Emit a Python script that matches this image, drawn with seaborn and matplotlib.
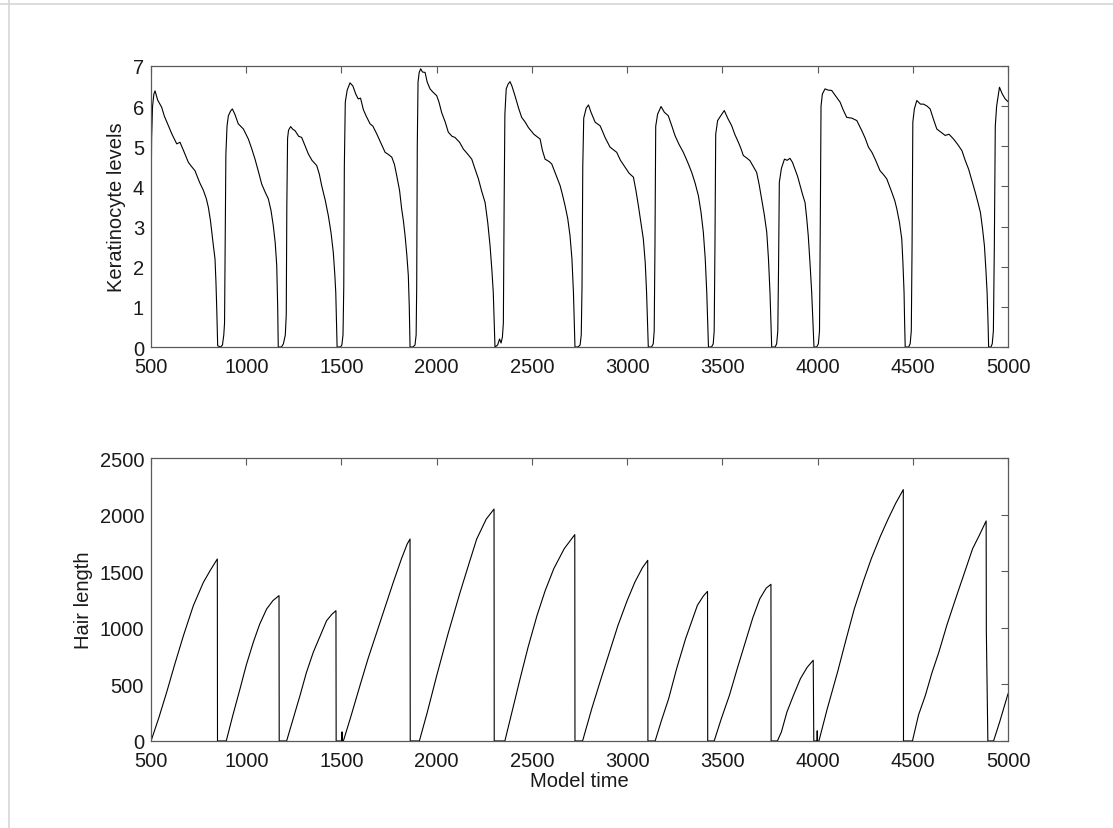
import numpy as np
import pandas as pd
import matplotlib
matplotlib.use("Agg")
import matplotlib.pyplot as plt
from matplotlib.lines import Line2D
import seaborn as sns

# Keratinocyte levels over model time
kera_t = [500, 503, 508, 515, 521, 535, 556, 570, 591, 610, 635, 652, 670, 696, 712, 731, 755, 775, 790, 801, 812, 819, 828, 836, 841, 845, 850,
          865, 875, 882, 886, 889, 893, 899, 906, 918, 927,
          940, 958, 985, 1011, 1028, 1046, 1065, 1081, 1100, 1116, 1130, 1142, 1152, 1160, 1165, 1168,
          1185, 1195, 1205, 1210, 1213, 1217, 1222, 1233,
          1245, 1256, 1275, 1291, 1310, 1326, 1345, 1370, 1384, 1396, 1415, 1431, 1445, 1457, 1465, 1470, 1477,
          1495, 1502, 1508, 1512, 1515, 1520, 1530, 1545, 1560,
          1575, 1588, 1600, 1615, 1630, 1650, 1665, 1685, 1705, 1729, 1745, 1764, 1778, 1790, 1805, 1816, 1825, 1834, 1843, 1851, 1856, 1860,
          1875, 1886, 1892, 1895, 1898, 1902, 1908, 1916, 1925, 1939,
          1950, 1965, 1980, 2000, 2012, 2026, 2045, 2061, 2080, 2096, 2120, 2140, 2160, 2184, 2200, 2219, 2235, 2254, 2268, 2280, 2290, 2297, 2302, 2306,
          2320, 2330, 2338, 2345, 2350, 2354, 2358, 2365, 2375, 2385, 2395,
          2411, 2430, 2446, 2465, 2481, 2510, 2543, 2555, 2569, 2590, 2604, 2625, 2648, 2660, 2674, 2688, 2700, 2710, 2718, 2722, 2726,
          2742, 2753, 2759, 2763, 2767, 2772, 2785, 2797,
          2810, 2832, 2858, 2870, 2884, 2897, 2910, 2945, 2965, 2989, 3010, 3033, 3046, 3059, 3072, 3085, 3095, 3102, 3107, 3111,
          3128, 3137, 3142, 3146, 3150, 3160, 3178,
          3195, 3216, 3235, 3251, 3272, 3295, 3318, 3339, 3357, 3374, 3388, 3400, 3410, 3418, 3423, 3427,
          3443, 3452, 3457, 3461, 3465, 3475, 3490, 3510,
          3528, 3549, 3565, 3584, 3597, 3610, 3630, 3645, 3662, 3680, 3693, 3706, 3720, 3733, 3742, 3750, 3755, 3759,
          3777, 3785, 3791, 3795, 3799, 3810, 3826, 3840, 3855,
          3868, 3881, 3895, 3908, 3921, 3934, 3943, 3951, 3960, 3969, 3976, 3981,
          3995, 4004, 4010, 4014, 4018, 4025, 4039, 4055, 4074,
          4095, 4118, 4135, 4153, 4180, 4206, 4232, 4250, 4267, 4285, 4302, 4328, 4345, 4363, 4390, 4405, 4416, 4430, 4442, 4448, 4454, 4457, 4460,
          4478, 4486, 4492, 4496, 4500, 4508, 4521, 4540, 4556, 4575, 4591,
          4610, 4626, 4648, 4670, 4690, 4714, 4735, 4758, 4775, 4793, 4810, 4828, 4842, 4855, 4866, 4876, 4884, 4890, 4895, 4898,
          4910, 4917, 4923, 4928, 4933, 4940, 4955, 4970, 4985, 5000]
kera_v = [3.3, 5.2, 6.0, 6.3, 6.38, 6.15, 5.97, 5.75, 5.51, 5.3, 5.06, 5.10, 4.9, 4.60, 4.5, 4.39, 4.1, 3.90, 3.7, 3.48, 3.15, 2.86, 2.5, 2.19, 1.6, 0.95, 0.03,
          0.0, 0.05, 0.3, 0.6, 2.5, 4.8, 5.5, 5.76, 5.88, 5.93,
          5.8, 5.56, 5.43, 5.18, 4.95, 4.68, 4.35, 4.06, 3.85, 3.69, 3.4, 3.02, 2.6, 2.03, 1.0, 0.0,
          0.0, 0.08, 0.3, 0.8, 3.5, 5.2, 5.4, 5.49,
          5.42, 5.39, 5.25, 5.22, 5.0, 4.81, 4.65, 4.52, 4.3, 4.02, 3.65, 3.27, 2.85, 2.36, 1.8, 1.36, 0.0,
          0.0, 0.05, 0.3, 1.5, 4.5, 6.1, 6.4, 6.58, 6.5,
          6.3, 6.18, 6.2, 5.91, 5.75, 5.56, 5.5, 5.31, 5.1, 4.85, 4.8, 4.73, 4.55, 4.27, 3.9, 3.44, 3.15, 2.77, 2.3, 1.78, 1.0, 0.0,
          0.0, 0.05, 0.3, 1.5, 5.0, 6.6, 6.84, 6.93, 6.85, 6.84,
          6.6, 6.43, 6.35, 6.26, 6.1, 5.84, 5.6, 5.35, 5.25, 5.22, 5.1, 4.93, 4.82, 4.68, 4.45, 4.19, 3.9, 3.60, 3.1, 2.53, 1.9, 1.36, 0.6, 0.0,
          0.05, 0.2, 0.1, 0.25, 0.6, 3.5, 5.8, 6.43, 6.55, 6.61, 6.5,
          6.26, 5.95, 5.72, 5.6, 5.47, 5.3, 5.18, 4.9, 4.68, 4.62, 4.56, 4.3, 4.02, 3.8, 3.52, 3.2, 2.77, 2.2, 1.36, 0.7, 0.0,
          0.0, 0.05, 0.3, 1.5, 4.5, 5.7, 5.95, 6.03,
          5.85, 5.60, 5.51, 5.38, 5.22, 5.1, 4.98, 4.85, 4.65, 4.48, 4.33, 4.23, 3.9, 3.52, 3.1, 2.69, 2.1, 1.36, 0.6, 0.0,
          0.0, 0.08, 0.4, 2.5, 5.5, 5.8, 5.99,
          5.85, 5.76, 5.5, 5.27, 5.05, 4.85, 4.6, 4.35, 4.08, 3.77, 3.35, 2.86, 2.2, 1.36, 0.6, 0.0,
          0.0, 0.08, 0.4, 2.5, 5.3, 5.64, 5.75, 5.89,
          5.7, 5.51, 5.3, 5.10, 4.95, 4.77, 4.7, 4.64, 4.5, 4.35, 4.05, 3.69, 3.3, 2.86, 2.2, 1.36, 0.6, 0.0,
          0.0, 0.08, 0.4, 2.0, 4.1, 4.45, 4.68, 4.65, 4.7,
          4.6, 4.43, 4.25, 4.02, 3.8, 3.60, 3.2, 2.77, 2.1, 1.36, 0.6, 0.0,
          0.0, 0.08, 0.4, 3.0, 6.0, 6.3, 6.43, 6.4, 6.39,
          6.25, 6.10, 5.9, 5.72, 5.7, 5.64, 5.39, 5.2, 4.98, 4.85, 4.68, 4.39, 4.3, 4.19, 3.85, 3.65, 3.44, 3.1, 2.69, 2.1, 1.36, 0.6, 0.0,
          0.0, 0.08, 0.4, 2.5, 5.6, 5.93, 6.14, 6.05, 6.05, 6.0, 5.93,
          5.65, 5.43, 5.35, 5.27, 5.3, 5.18, 5.05, 4.89, 4.65, 4.43, 4.15, 3.85, 3.6, 3.35, 2.95, 2.52, 1.9, 1.36, 0.6, 0.0,
          0.0, 0.08, 0.4, 2.5, 5.5, 6.0, 6.47, 6.3, 6.18, 6.11]

# Hair length over model time
hair_t = [500, 540, 582, 625, 670, 722, 775, 812, 848, 849,
          880, 895, 930, 967, 1000, 1037, 1070, 1107, 1140, 1172, 1173,
          1195, 1212, 1245, 1282, 1315, 1352, 1390, 1422, 1450, 1471, 1472,
          1502, 1503, 1504, 1510, 1550, 1597, 1640, 1685, 1730, 1772, 1815, 1845, 1860, 1861,
          1895, 1909, 1950, 2000, 2060, 2123, 2170, 2210, 2260, 2301, 2302,
          2340, 2358, 2400, 2438, 2480, 2527, 2570, 2615, 2670, 2725, 2726,
          2748, 2766, 2815, 2863, 2910, 2952, 3000, 3041, 3080, 3108, 3109,
          3129, 3147, 3180, 3218, 3260, 3307, 3340, 3369, 3400, 3422, 3423,
          3440, 3457, 3495, 3537, 3580, 3626, 3660, 3697, 3730, 3755, 3756,
          3777, 3789, 3810, 3839, 3875, 3910, 3945, 3977, 3980,
          3997, 3998, 3999, 4007, 4050, 4105, 4150, 4193, 4240, 4282, 4330, 4371, 4410, 4450, 4451,
          4480, 4498, 4530, 4566, 4600, 4637, 4680, 4725, 4770, 4814, 4850, 4885, 4886, 4894,
          4911, 4924, 4956, 5000]
hair_v = [0, 200, 430, 680, 930, 1195, 1402, 1510, 1608, 0,
          0, 0, 230, 459, 670, 872, 1030, 1166, 1240, 1284, 0,
          0, 0, 190, 400, 600, 784, 935, 1063, 1120, 1151, 0,
          0, 80, 0, 0, 220, 489, 730, 960, 1190, 1402, 1610, 1740, 1784, 0,
          0, 0, 250, 577, 950, 1314, 1570, 1784, 1960, 2049, 0,
          0, 0, 290, 551, 830, 1110, 1330, 1523, 1700, 1823, 0,
          0, 0, 290, 551, 800, 1022, 1240, 1405, 1530, 1596, 0,
          0, 0, 180, 374, 640, 904, 1060, 1199, 1280, 1322, 0,
          0, 0, 200, 403, 650, 904, 1090, 1258, 1350, 1384, 0,
          0, 0, 80, 256, 410, 551, 650, 713, 0,
          0, 90, 0, 0, 280, 610, 900, 1169, 1410, 1611, 1810, 1964, 2100, 2221, 0,
          0, 0, 230, 403, 600, 786, 1030, 1258, 1480, 1699, 1820, 1944, 980, 0,
          0, 0, 168, 418]

x_ticks = [500, 1000, 1500, 2000, 2500, 3000, 3500, 4000, 4500, 5000]
kera_ticks = [0, 1, 2, 3, 4, 5, 6, 7]
hair_ticks = [0, 500, 1000, 1500, 2000, 2500]

kera = pd.DataFrame({"time": kera_t, "level": kera_v})
hair = pd.DataFrame({"time": hair_t, "length": hair_v})

sns.set_theme(style="white")
plt.rcParams["font.family"] = ["Liberation Sans", "DejaVu Sans"]
plt.rcParams["axes.edgecolor"] = "#5a5a5a"
plt.rcParams["axes.linewidth"] = 0.9
plt.rcParams["text.color"] = "#1a1a1a"
plt.rcParams["axes.labelcolor"] = "#1a1a1a"

FS = 14.5

fig = plt.figure(figsize=(11.13, 8.29), dpi=100)
fig.patch.set_facecolor("white")

ax1 = fig.add_axes([0.1357, 0.5802, 0.770, 0.339])
ax2 = fig.add_axes([0.1357, 0.105, 0.770, 0.3413])

sns.lineplot(data=kera, x="time", y="level", ax=ax1, color="black",
             linewidth=0.8, estimator=None, sort=False)
sns.lineplot(data=hair, x="time", y="length", ax=ax2, color="black",
             linewidth=0.8, estimator=None, sort=False)

ax1.set_ylim(0, 7)
ax1.set_yticks(kera_ticks)
ax2.set_ylim(0, 2500)
ax2.set_yticks(hair_ticks)

for ax in (ax1, ax2):
    ax.set_xlim(500, 5000)
    ax.set_xticks(x_ticks)
    ax.tick_params(direction="in", length=5, width=0.8, color="#5a5a5a",
                   top=True, right=True, labelsize=FS, labelcolor="#1a1a1a")
    ax.tick_params(axis="x", pad=7)
    ax.tick_params(axis="y", pad=5)
    for s in ax.spines.values():
        s.set_visible(True)
        s.set_color("#5a5a5a")

ax1.set_xlabel("")
ax1.set_ylabel("Keratinocyte levels", fontsize=FS, labelpad=5)
ax2.set_xlabel("Model time", fontsize=FS, labelpad=1)
ax2.set_ylabel("Hair length", fontsize=FS, labelpad=5)

# thin light frame lines along the top and left edges of the canvas
fig.add_artist(Line2D([0, 1], [1 - 4.5 / 829, 1 - 4.5 / 829],
                      transform=fig.transFigure, color="#d6d6d6", linewidth=1.2))
fig.add_artist(Line2D([8.5 / 1113, 8.5 / 1113], [0, 1],
                      transform=fig.transFigure, color="#d6d6d6", linewidth=1.2))

fig.savefig("out.png", dpi=100, facecolor="white")
